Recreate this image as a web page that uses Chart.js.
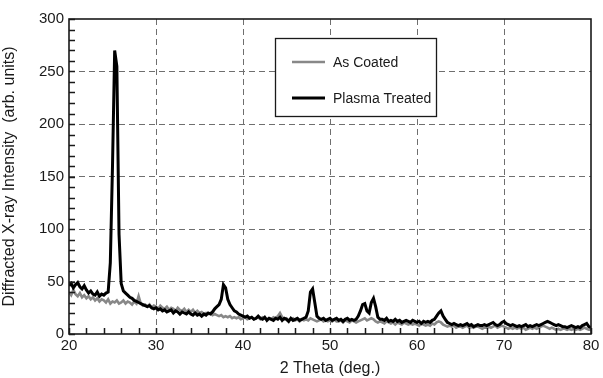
<!DOCTYPE html>
<html><head><meta charset="utf-8">
<script src="https://cdn.jsdelivr.net/npm/chart.js@4.4.1/dist/chart.umd.min.js"></script>
<style>html,body{margin:0;padding:0;background:#fff;}</style>
</head><body>
<canvas id="c" width="603" height="378" style="width:603px;height:378px;display:block"></canvas>
<script>
// 2-theta sampling of both scans
const thetaStart = 20, thetaStep = 0.25;
const seriesNames = ['As Coated', 'Plasma Treated'];
const xTickValues = [20, 30, 40, 50, 60, 70, 80];
const yTickValues = [0, 50, 100, 150, 200, 250, 300];

const asCoated = [
 40,37,42,38, 36,39,35,37, 34,36,33,35, 32,34,31,33, 32,30,33,29,
 31,30,32,29, 30,32,29,31, 30,28,31,29, 36,29,27,28, 26,28,25,27,
 26,24,27,25, 24,26,23,25, 24,22,25,23, 22,24,21,23, 21,23,20,22,
 20,21,19,20, 19,20,18,19, 18,17,18,16, 17,16,17,15, 16,15,16,14,
 15,16,14,15, 16,14,15,16, 14,16,15,14, 15,14,16,15, 17,20,16,14,
 15,13,14,15, 13,14,12,14, 13,14,13,15, 14,13,12,13, 14,12,13,12,
 13,12,14,12, 12,13,11,13, 12,11,13,12, 11,12,13,14, 15,13,14,15,
 14,12,11,12, 11,10,12,11, 10,11,9,11, 10,9,11,10, 9,10,9,10,
 9,8,10,9, 8,9,8,10, 9,11,12,11, 9,8,7,8, 7,8,6,7,
 7,6,7,8, 6,7,6,7, 7,6,5,6, 6,7,6,7, 8,6,7,8,
 7,6,5,6, 5,6,5,6, 5,6,4,5, 6,5,6,5, 6,7,8,7,
 6,5,6,5, 4,5,4,5, 5,4,5,4, 5,4,5,4, 5,6,5,4,
 4
];

const plasmaTreated = [
 46,48,44,47, 49,45,43,46, 42,39,41,38, 37,40,36,38, 37,39,40,68,
 160,270,255,95, 48,41,39,37, 35,34,32,31, 30,29,28,27, 26,27,25,24,
 25,23,24,22, 23,21,22,23, 20,22,21,19, 21,20,19,21, 19,18,20,18,
 19,17,19,18, 20,19,21,24, 26,28,33,47, 44,33,28,25, 22,21,19,18,
 17,16,17,15, 16,14,15,17, 15,14,16,13, 15,14,13,15, 14,16,13,15,
 14,12,15,13, 14,15,13,14, 15,16,22,40, 43,30,17,15, 14,15,13,14,
 15,13,14,15, 13,14,12,14, 15,13,14,13, 14,17,22,28, 29,22,20,30,
 34,26,16,14, 14,13,15,12, 13,12,14,12, 13,11,12,13, 12,11,13,12,
 11,12,10,12, 11,12,11,13, 14,17,20,22, 17,14,11,10, 9,10,9,8,
 9,8,9,10, 8,9,7,8, 9,8,8,9, 8,9,10,11, 9,8,9,11,
 12,10,9,8, 9,8,7,8, 7,8,9,7, 8,7,8,9, 8,9,10,11,
 12,11,10,9, 8,9,8,7, 7,6,7,8, 7,6,7,6, 8,9,10,7,
 6
];

const toPoints = arr => arr.map((v, i) => ({x: thetaStart + i * thetaStep, y: v}));

const FONT = 'Liberation Sans, Arial, Helvetica, sans-serif';

const decor = {
  id: 'decor',
  afterDraw(chart) {
    const {ctx, chartArea: a, scales: {x, y}} = chart;
    ctx.save();
    ctx.strokeStyle = '#1a1a1a';
    ctx.lineWidth = 1.5;
    ctx.beginPath();
    for (let v = x.min; v <= x.max; v += 2) {
      const px = Math.round(x.getPixelForValue(v)) + 0.5;
      ctx.moveTo(px, a.bottom); ctx.lineTo(px, a.bottom - 6);
    }
    for (let v = y.min; v <= y.max; v += 10) {
      const py = Math.round(y.getPixelForValue(v)) + 0.5;
      ctx.moveTo(a.left, py); ctx.lineTo(a.left + 6, py);
    }
    ctx.stroke();
    ctx.lineWidth = 1.6;
    ctx.strokeRect(a.left, a.top, a.right - a.left, a.bottom - a.top);

    // legend box
    const bx = a.left + 206, by = a.top + 19, bw = 161, bh = 78;
    ctx.fillStyle = '#fff';
    ctx.fillRect(bx, by, bw, bh);
    ctx.lineWidth = 1.3;
    ctx.strokeStyle = '#1a1a1a';
    ctx.strokeRect(bx + 0.5, by + 0.5, bw, bh);
    const ds = chart.data.datasets;
    const rows = [by + 24, by + 60];
    ctx.font = '14px ' + FONT;
    ctx.textBaseline = 'middle';
    ds.forEach((d, i) => {
      ctx.strokeStyle = d.borderColor;
      ctx.lineWidth = d.borderWidth;
      ctx.beginPath();
      ctx.moveTo(bx + 17, rows[i]); ctx.lineTo(bx + 50, rows[i]);
      ctx.stroke();
      ctx.fillStyle = '#1a1a1a';
      ctx.fillText(d.label, bx + 58, rows[i] + 1);
    });
    ctx.restore();
  }
};

new Chart(document.getElementById('c'), {
  type: 'line',
  data: {
    datasets: [
      {label: seriesNames[0], data: toPoints(asCoated), borderColor: '#888888', borderWidth: 2.6,
       pointRadius: 0, tension: 0, order: 2},
      {label: seriesNames[1], data: toPoints(plasmaTreated), borderColor: '#000000', borderWidth: 3,
       pointRadius: 0, tension: 0, order: 1}
    ]
  },
  options: {
    responsive: false,
    animation: false,
    devicePixelRatio: 1,
    layout: {padding: {top: 19, right: 12, left: 0, bottom: 0}},
    plugins: {legend: {display: false}, tooltip: {enabled: false}},
    scales: {
      x: {
        type: 'linear', min: 20, max: 80,
        afterBuildTicks: s => { s.ticks = xTickValues.map(v => ({value: v})); },
        afterFit: s => { s.height = 44; },
        ticks: {color: '#1a1a1a', font: {family: FONT, size: 15}, padding: 3, maxRotation: 0,
                callback: v => String(v)},
        grid: {drawTicks: false,
               color: c => (c.tick && (c.tick.value === 20 || c.tick.value === 80)) ? 'rgba(0,0,0,0)' : '#6f6f6f',
               lineWidth: 1},
        border: {display: false, dash: [6, 4]},
        title: {display: true, text: '2 Theta (deg.)', color: '#1a1a1a',
                font: {family: FONT, size: 16}, padding: {top: 0, bottom: 0}}
      },
      y: {
        type: 'linear', min: 0, max: 300,
        afterBuildTicks: s => { s.ticks = yTickValues.map(v => ({value: v})); },
        afterFit: s => { s.width = 69; },
        ticks: {color: '#1a1a1a', font: {family: FONT, size: 15}, padding: 5,
                callback: v => String(v)},
        grid: {drawTicks: false,
               color: c => (c.tick && (c.tick.value === 0 || c.tick.value === 300)) ? 'rgba(0,0,0,0)' : '#6f6f6f',
               lineWidth: 1},
        border: {display: false, dash: [6, 4]},
        title: {display: true, text: 'Diffracted X-ray Intensity  (arb. units)', color: '#1a1a1a',
                font: {family: FONT, size: 16}, padding: {top: 0, bottom: 2}}
      }
    }
  },
  plugins: [decor]
});
</script>
</body></html>
